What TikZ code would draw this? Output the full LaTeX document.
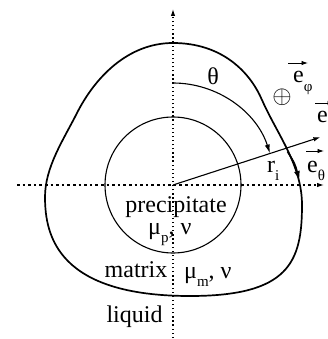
\documentclass[tikz,border=0pt]{standalone}
\usepackage{fontspec}
\setmainfont{Liberation Serif}
\usetikzlibrary{arrows.meta,calc}
\newcommand\lsub[1]{\raisebox{-0.34em}{\fontsize{15}{15}\selectfont #1}}
\begin{document}
\begin{tikzpicture}[x=1pt,y=-1pt,
  lab/.style={font=\fontsize{24}{26}\selectfont, inner sep=0pt},
  axisv/.style={line width=1.1pt, dash pattern=on 1.3pt off 2.8pt},
  axish/.style={line width=1.1pt, dash pattern=on 2.6pt off 3pt},
  tip/.style={-{Latex[length=7pt,width=4.5pt]}},
  vecarr/.style={line width=0.9pt, -{Latex[length=6.5pt,width=4.5pt]}}]
\useasboundingbox (0,0) rectangle (328,339);
\coordinate (O) at (173,185);
\coordinate (Ytop) at (173,9);
\coordinate (Ybot) at (173,338);
\coordinate (Xl) at (17,185);
\coordinate (Xr) at (324,185);
\draw[axisv, tip] (Ybot) -- (Ytop);
\draw[axish, tip] (Xl) -- (Xr);
% inner circle
\draw[line width=1.1pt] (O) circle[radius=68];
% outer curve
\coordinate (Ptop) at (173,43);
\coordinate (Pne) at (262,100);
\coordinate (Pr) at (302,205);
\coordinate (Pb) at (190,296);
\coordinate (Pl) at (45,197);
\coordinate (Pnw) at (77,113);
\draw[line width=1.7pt] (Ptop) .. controls (222,43) and (250,72) .. (Pne)
  .. controls (277,134) and (302,165) .. (Pr)
  .. controls (302,262) and (289,296) .. (Pb)
  .. controls (58,296) and (45,236) .. (Pl)
  .. controls (45,167) and (63.5,139.7) .. (Pnw)
  .. controls (95,77.4) and (128,43) .. (Ptop) -- cycle;
% theta arc
\coordinate (A0) at (173,83);
\draw[line width=1.1pt, -{Latex[length=9pt,width=5pt]}] (A0) arc[start angle=-90, end angle=-18, radius=102];
% r_i
\coordinate (R) at ($(O)+(-18:155)$);
\draw[line width=1.1pt, tip] (O) -- (R);
% e_theta tangent arrow
\coordinate (T1) at (287.5,151.5);
\coordinate (T2) at (299.5,181);
\draw[line width=1.7pt, -{Latex[length=10pt,width=6pt]}] (T1) .. controls (295,164) .. (T2);
% labels
\node[lab, anchor=base] (prec) at (176,212) {precipitate};
\node[lab, anchor=base west] (mup) at (148,234) {μ\lsub{p}, ν};
\node[lab, anchor=base] (mat) at (136,277) {matrix};
\node[lab, anchor=base west] (mum) at (184,278) {μ\lsub{m}, ν};
\node[lab, anchor=base] (liq) at (134.5,322) {liquid};
\node[lab, anchor=base] (th) at (213,85) {θ};
\node[lab, anchor=base west] (ri) at (267,172) {r\lsub{i}};
\node[lab, anchor=base west] (ephi) at (293,83) {e\lsub{φ}};
\node[lab, anchor=base west] (er) at (317,122) {e\lsub{r}};
\node[lab, anchor=base west] (eth) at (307,172) {e\lsub{θ}};
\node[inner sep=0pt, font=\fontsize{24}{24}\selectfont] (plus) at (282,97) {$\oplus$};
% vector arrows
\coordinate (v1a) at (288,63); \coordinate (v1b) at (308,63);
\coordinate (v2a) at (315,103); \coordinate (v2b) at (334,103);
\coordinate (v3a) at (306,151); \coordinate (v3b) at (324,151);
\draw[vecarr] (v1a) -- (v1b);
\draw[vecarr] (v2a) -- (v2b);
\draw[vecarr] (v3a) -- (v3b);
\end{tikzpicture}
\end{document}
